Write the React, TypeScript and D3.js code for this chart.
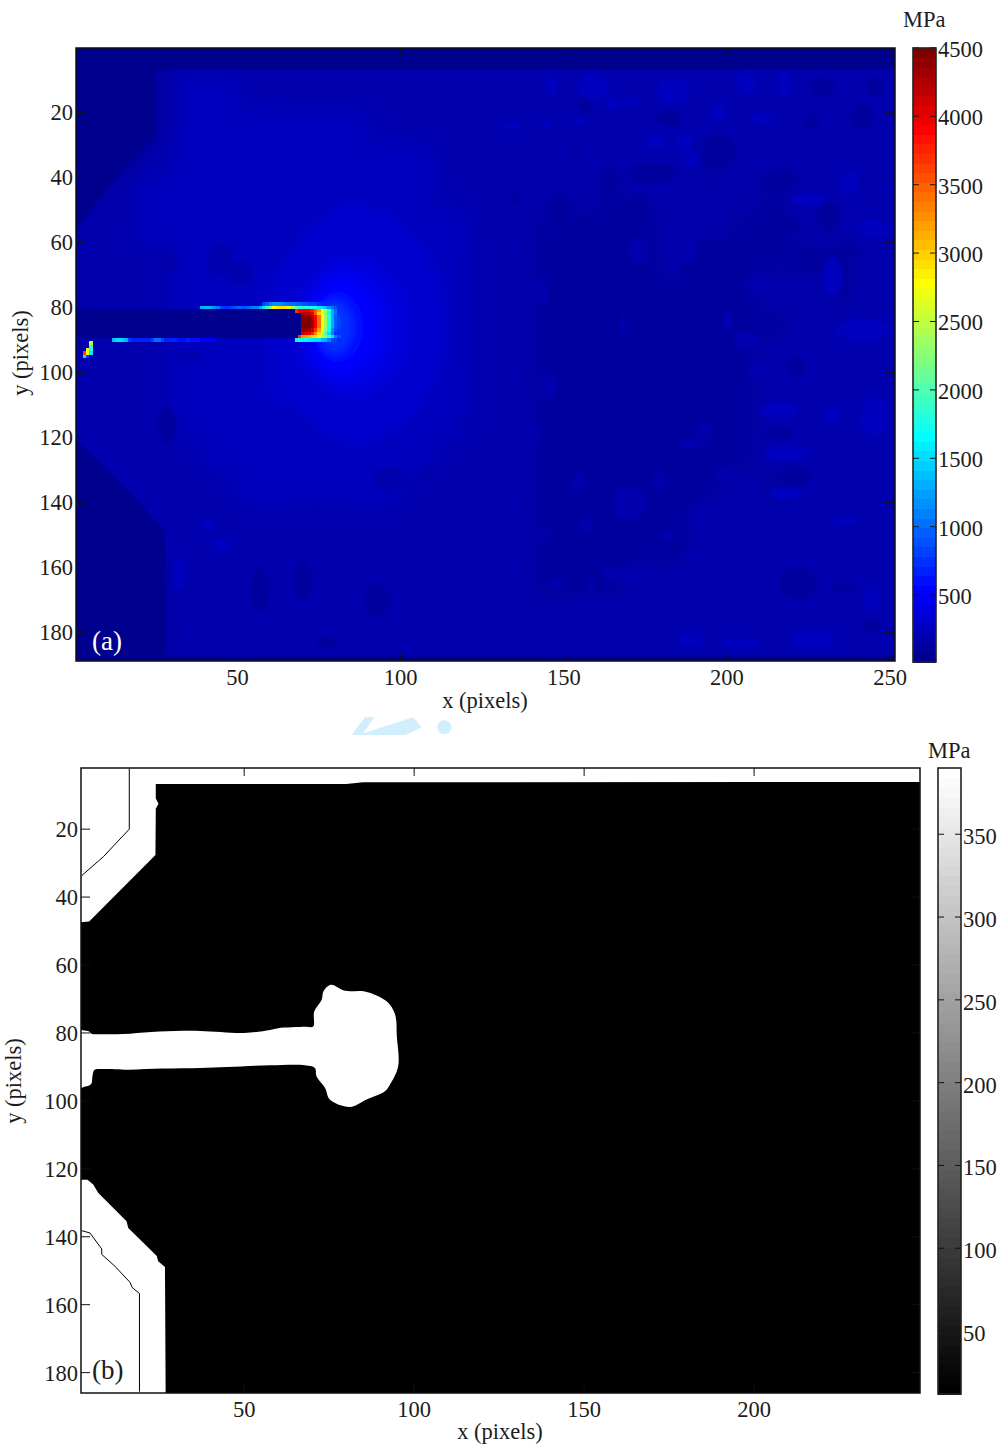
import React from "react";
import * as d3 from "d3";

type Pt = [number, number];
type Blob = [number, number, number, number, number];

// ---- panel (a): stress field in MPa ----
const fieldX = [5, 15, 25, 35, 45, 55, 65, 75, 85, 95, 105, 115, 125, 135, 145, 155, 165, 175, 185, 195, 205, 215, 225, 235, 245, 255];
const fieldY = [5, 15, 25, 35, 45, 55, 65, 75, 85, 95, 105, 115, 125, 135, 145, 155, 165, 175, 185];
const field = [
  [140, 140, 140, 210, 220, 220, 220, 210, 210, 200, 200, 200, 190, 190, 190, 190, 200, 200, 200, 200, 200, 210, 190, 180, 180, 170],
  [140, 140, 140, 240, 240, 220, 220, 220, 220, 210, 210, 210, 200, 190, 180, 190, 180, 190, 190, 190, 200, 210, 190, 170, 170, 170],
  [140, 140, 150, 260, 240, 230, 230, 230, 230, 220, 210, 210, 200, 180, 170, 180, 170, 180, 180, 170, 180, 180, 170, 170, 170, 170],
  [140, 150, 210, 240, 250, 240, 240, 240, 240, 240, 230, 210, 190, 180, 170, 170, 165, 160, 170, 150, 170, 170, 160, 160, 170, 170],
  [140, 170, 230, 240, 240, 240, 250, 260, 260, 250, 240, 220, 190, 170, 160, 160, 150, 160, 165, 170, 160, 150, 170, 170, 180, 180],
  [160, 210, 230, 230, 240, 250, 270, 290, 300, 280, 260, 230, 200, 170, 150, 145, 140, 140, 160, 170, 150, 140, 170, 160, 190, 190],
  [190, 210, 220, 230, 240, 260, 290, 330, 340, 320, 280, 240, 200, 170, 150, 135, 130, 150, 165, 140, 130, 130, 150, 150, 170, 170],
  [190, 205, 220, 230, 250, 280, 320, 370, 380, 360, 300, 250, 210, 170, 150, 135, 135, 135, 140, 130, 150, 170, 170, 150, 170, 170],
  [190, 205, 220, 230, 250, 280, 330, 400, 420, 370, 310, 260, 220, 180, 150, 140, 135, 130, 130, 135, 140, 150, 160, 170, 190, 190],
  [190, 210, 220, 230, 250, 280, 320, 380, 390, 350, 300, 250, 210, 180, 150, 140, 135, 130, 130, 135, 140, 160, 160, 170, 190, 190],
  [180, 200, 220, 230, 250, 270, 300, 330, 340, 310, 280, 240, 200, 170, 150, 140, 135, 130, 130, 135, 140, 170, 165, 170, 195, 200],
  [170, 190, 215, 225, 240, 260, 280, 290, 300, 280, 260, 230, 195, 165, 150, 135, 130, 130, 130, 140, 150, 190, 170, 190, 205, 210],
  [165, 170, 200, 220, 230, 250, 260, 270, 270, 260, 240, 215, 185, 165, 145, 140, 130, 130, 140, 140, 150, 180, 170, 180, 200, 200],
  [150, 160, 180, 220, 220, 230, 240, 240, 240, 240, 220, 200, 180, 160, 150, 140, 135, 130, 135, 150, 170, 150, 160, 170, 190, 190],
  [145, 150, 170, 210, 220, 220, 220, 220, 215, 210, 210, 200, 180, 160, 150, 145, 135, 140, 150, 160, 170, 170, 170, 175, 190, 190],
  [145, 145, 160, 200, 215, 210, 210, 205, 200, 200, 195, 190, 175, 160, 150, 145, 140, 140, 150, 160, 175, 175, 175, 180, 190, 190],
  [145, 145, 150, 195, 210, 195, 195, 200, 195, 190, 185, 180, 170, 160, 150, 150, 150, 165, 165, 170, 175, 170, 175, 170, 185, 190],
  [145, 145, 150, 195, 210, 210, 195, 195, 190, 190, 190, 180, 175, 165, 160, 160, 165, 180, 175, 170, 175, 175, 175, 180, 185, 190],
  [145, 145, 150, 210, 210, 210, 200, 190, 190, 185, 180, 185, 180, 175, 170, 185, 190, 180, 175, 185, 185, 185, 200, 190, 190, 190],
];

// contour bands of the stress concentration ahead of the tip: x, y, rx, ry, MPa
const tipHalo: Blob[] = [
  [87, 85, 26, 36, 300], [86, 86, 20, 27, 345], [85, 86, 17, 21, 400], [83, 86, 13, 17, 470],
  [82, 86, 10, 14, 540], [81, 86, 7.5, 10.5, 640], [80, 86, 5, 8, 760],
];

// mottled patches of the field: x, y, rx, ry, MPa
const lightPatches: Blob[] = [
  [205.8, 10.5, 3, 4, 290], [158.9, 12, 5, 4, 240], [183.4, 13.6, 5, 4, 240], [146.1, 11.6, 2, 3, 240], [217.6, 11, 2.2, 3.5, 240],
  [165, 17.2, 2, 2, 240], [170.6, 16.7, 2.5, 1.5, 235], [197.2, 20.3, 2, 3, 235], [211, 21.8, 3.5, 1.5, 235], [133.9, 24.2, 3.5, 1, 230],
  [144.6, 23.9, 2, 1, 230], [154.8, 22.9, 2, 1.5, 240], [178.3, 29, 3.5, 2, 240], [187, 29.5, 2.5, 3, 230], [189.5, 34.6, 2.5, 2.5, 240],
  [237.5, 41.8, 3, 3.5, 240], [224.7, 47, 5, 2, 240], [244.6, 55.7, 5, 3, 240], [197.7, 49, 3, 4, 220], [232.4, 70.5, 3, 6, 240],
  [209.9, 72.6, 4.5, 3, 215], [172.7, 62.3, 3, 4, 205], [187.5, 61.3, 3, 5, 200], [241.6, 87, 8, 3.5, 240], [136.4, 82.9, 3, 5, 205],
  [142.6, 75.7, 3, 4, 205], [205.8, 90, 4, 3, 215], [200.2, 83.9, 1.5, 3, 205], [168, 85, 1, 3, 190],
  [139.5, 119.3, 3, 5, 210], [145.6, 104.4, 2.5, 4, 200], [245.1, 113.6, 4, 6, 250], [232.4, 113.1, 2.5, 2.5, 250], [216, 111.6, 6, 2.5, 225],
  [210.9, 99.3, 5, 3, 215], [218, 124.9, 7, 2.5, 225], [189.5, 121.8, 4.5, 1.5, 195], [193.1, 118.2, 2, 2, 195], [154.8, 133.6, 2.5, 2.5, 190],
  [199.2, 131.6, 2.5, 2, 195], [170.1, 140.3, 5, 5, 195], [178.8, 133.1, 1.5, 4, 195], [192.6, 144.9, 3.5, 4, 205], [205.3, 143.4, 5, 5, 215],
  [218, 137.2, 5, 2, 225], [156.9, 147, 2, 2.5, 195], [143.6, 149.5, 2.5, 1.5, 195], [128.8, 147.5, 3, 2, 200], [182.4, 150, 2.5, 1.5, 195],
  [207.9, 155.7, 6, 4, 220], [191.5, 156.7, 6, 1.5, 210], [236.4, 145.9, 4, 1, 230], [172.2, 162.8, 7, 3, 210], [191.5, 162.8, 3, 3.5, 210],
  [164, 161.8, 2, 2.5, 205], [147.7, 164.9, 3, 1.5, 205], [130.8, 167.5, 2, 2, 205], [158.4, 165.9, 1.2, 3, 205], [142.6, 174.1, 6, 1.5, 205],
  [175.2, 172.1, 7, 2.5, 220], [186.4, 174.1, 2, 4, 220], [198.7, 175.1, 2.5, 5, 215], [162, 179.3, 9, 4.5, 220], [188.5, 182.3, 4, 2, 225],
  [203.8, 183.4, 6, 1.5, 225], [226.2, 182.3, 7, 3, 225], [244.6, 169.5, 2.5, 4, 280],
  [39.5, 43.7, 3, 3, 280], [40.5, 58, 2, 2.5, 270], [32, 162, 2, 5, 260], [45, 153, 3, 2, 260], [41, 147, 2, 2, 260],
];
const darkPatches: Blob[] = [
  [156.3, 17.7, 2, 3.5, 130], [182.4, 21.8, 4, 2.5, 120], [229.3, 12, 4, 3, 120], [245.6, 12, 3, 3, 110], [241.6, 21.3, 4, 3.5, 115],
  [226.2, 22.9, 2.5, 2.5, 120], [197.7, 31.6, 5, 5, 125], [164, 40.8, 3, 3.5, 110], [177.3, 38.7, 8, 3, 115], [216, 40.8, 6, 3, 100],
  [173.2, 51, 4, 6, 110], [148.7, 49, 3.5, 5, 115], [135.4, 46.4, 1.5, 2, 115], [231.3, 52, 4, 4.5, 110], [216, 55.2, 7, 3, 110],
  [160, 64.4, 7, 10, 115], [195.6, 66.4, 10, 7, 110], [175.2, 82.9, 2, 3.5, 90], [237.5, 62.3, 3.5, 2, 110], [224.7, 65.4, 3, 3, 110],
  [153.8, 31, 2, 1, 110], [221, 132, 5, 3, 120], [235.4, 165.9, 4, 1.5, 115], [222, 164.9, 6, 5, 120], [216, 118.7, 5, 2, 125],
  [244.6, 178.2, 3, 2, 125], [221, 98.2, 3, 3, 120], [96.6, 133, 5, 4, 165], [109.9, 130.9, 4, 2.5, 165], [120, 115.5, 2.5, 1.2, 165],
  [116, 121.7, 2, 1.2, 160], [28.3, 116.5, 3, 6, 150], [44.6, 65.2, 4, 5, 180], [50.7, 69.4, 4, 4, 190], [28.3, 66.3, 3, 4, 170],
  [35.4, 95, 4, 1.5, 170], [57, 167, 3, 7, 110], [70, 164, 3, 6, 120], [93, 170, 4, 5, 120], [77, 183, 3, 2, 130],
];

// unloaded areas outside the specimen
const maskTop: Pt[] = [[0.2, 0.2], [251.5, 0.2], [251.5, 6.9], [0.2, 6.9]];
const maskUpperLeft: Pt[] = [[0.2, 6.9], [24.7, 6.9], [24.7, 27.5], [17, 35.2], [11.9, 41.8], [4.8, 50], [0.7, 56], [0.2, 56]];
const maskLowerLeft: Pt[] = [[0.2, 120], [19, 139], [27.8, 149], [27.8, 188.8], [0.2, 188.8]];
const maskBottom: Pt[] = [[0.2, 187.3], [251.5, 187.3], [251.5, 188.8], [0.2, 188.8]];
const maskCrack: Pt[] = [[0.2, 80.5], [69.5, 80.5], [69.5, 89.5], [0.2, 89.5]];
const maskValue = 60;

// single measured pixels along the crack and at its tip: row, first column, MPa
const tipRows: [number, number, number[]][] = [
  [79, 58, [800, 950, 1100, 1200, 1200, 1200, 1100, 1050, 1000, 1000, 950, 950, 900, 900, 850, 800, 800, 750, 700, 650]],
  [80, 39, [1300, 1400, 1400, 1300, 1200, 1100, 800, 750, 750, 800, 900, 950, 950, 900, 950, 1000, 1100, 1100, 1300, 1500, 1900, 2400, 2800, 2850, 2900, 2900, 2850, 2700, 2300, 2000, 1900, 1800, 1800, 1750, 1700, 1700, 1600, 1500, 1350, 1200, 1050, 900]],
  [81, 68, [3700, 3900, 4000, 4000, 3900, 3800, 3500, 3200, 2800, 2400, 1800, 1300, 1000]],
  [82, 70, [4300, 4200, 4100, 3950, 3500, 3000, 2700, 2300, 1700, 1300, 1000]],
  [83, 70, [4500, 4500, 4500, 4300, 3900, 3400, 2800, 2400, 1800, 1300, 950, 800]],
  [84, 70, [4500, 4500, 4500, 4300, 3900, 3400, 2800, 2400, 1800, 1300, 950, 800]],
  [85, 70, [4500, 4500, 4500, 4300, 3900, 3400, 2800, 2400, 1800, 1300, 950, 800]],
  [86, 70, [4500, 4500, 4500, 4300, 3900, 3400, 2800, 2400, 1800, 1300, 950, 800]],
  [87, 70, [4400, 4400, 4300, 4100, 3700, 3200, 2700, 2200, 1700, 1200, 900]],
  [88, 70, [4100, 4000, 3950, 3800, 3300, 2900, 2500, 2000, 1500, 1100]],
  [89, 69, [3700, 3300, 3200, 3100, 3000, 2900, 2700, 2400, 2200, 1900, 1500, 1100, 900]],
  [90, 68, [1700, 1700, 1650, 1650, 1600, 1600, 1550, 1500, 1400, 1300, 1100, 900, 800, 700]],
  [90, 12, [1400, 1500, 1500, 1450, 1300, 800, 700, 650, 650, 650, 650, 650, 800, 1000, 1000, 800, 700, 680, 650, 650, 600, 600, 620, 650, 620, 600, 580, 560, 550, 530, 520, 500]],
  [91, 5, [2500]],
  [92, 5, [1900]],
  [93, 4, [2700, 1800]],
  [94, 3, [3600, 2700, 1600]],
  [95, 3, [1500, 800]],
];

const xTicksA = [50, 100, 150, 200, 250];
const xTicksB = [50, 100, 150, 200];
const yTicks = [20, 40, 60, 80, 100, 120, 140, 160, 180];
const barTicksA = [500, 1000, 1500, 2000, 2500, 3000, 3500, 4000, 4500];
const barTicksB = [50, 100, 150, 200, 250, 300, 350];

// ---- panel (b): regions above yield are white, the rest is black ----
const blackOutline: Pt[] = [
  [24, 6.7], [80, 6.7], [85, 6.2], [248.8, 6.1], [248.8, 186], [26.9, 186],
  [26.7, 148.9], [24.7, 147.2], [24.3, 145.7], [15.9, 137.4], [15.4, 135.4], [7.1, 127.1], [5.6, 124.6], [3.9, 123.2], [2, 123.2],
  [2, 47.4], [4.4, 47.2], [23.9, 27.6], [24, 14], [24.8, 12.5], [24, 11],
];
const crackOutline: Pt[] = [
  [0, 79], [2.5, 79.2], [4.4, 79.6], [5, 80.2], [8, 80.4], [16.4, 80.2], [25, 79.6], [37, 79.4], [50, 80], [57.6, 79.1], [60, 78.6], [68, 78.2],
  [70.3, 78.1], [70.6, 73.7], [72.8, 70.2], [73.3, 67.8], [75.5, 65.8], [79.7, 67.6], [85.5, 67.8], [91.9, 70.7], [94.4, 74.6],
  [94.9, 81], [95.3, 89.8], [92.9, 95.2], [91.4, 97.2], [86, 99.6], [81.1, 101.8], [75.2, 99.6], [73.8, 96.2], [71.3, 92.8], [70.8, 90.3],
  [67.9, 89.5], [57.6, 89.5], [45, 90], [37, 90.3], [26, 90.5], [16, 90.8], [8, 90.6], [6, 90.8], [5.4, 92.5], [5, 95], [3.2, 95.8], [0, 96.2],
];
const upperContour: Pt[] = [[16.2, 2.1], [16.2, 20], [8.6, 28.1], [2.2, 33.7]];
const lowerContour: Pt[] = [[2.2, 138.2], [4.65, 138.9], [8.1, 143.6], [8.1, 145.2], [12, 148.7], [16.4, 153.4], [17.1, 155], [19.2, 156.7], [19.2, 185.6]];

const FONT = "'Liberation Serif', 'Times New Roman', serif";
const INK = "#1c1c1c";

const x1 = d3.scaleLinear().domain([0.5, 251.5]).range([76, 895]);
const y1 = d3.scaleLinear().domain([0.2, 188.8]).range([48, 661]);
const bar1 = d3.scaleLinear().domain([11, 4499]).range([662, 48]);
const x2 = d3.scaleLinear().domain([2, 248.8]).range([81, 920]);
const y2 = d3.scaleLinear().domain([2, 186]).range([768, 1393]);
const bar2 = d3.scaleLinear().domain([12, 390]).range([1394, 768]);

const jetRamp = d3
  .scaleLinear<string>()
  .domain([0, 0.111, 0.365, 0.619, 0.873, 1])
  .range(["#00008f", "#0000ff", "#00ffff", "#ffff00", "#ff0000", "#800000"])
  .clamp(true);
const LEVELS = d3.range(64);
const jet = (v: number) => {
  const level = Math.min(63, Math.floor(((v - 10) / 4500) * 64));
  return jetRamp(level / 63);
};

const toPath = (pts: Pt[], x: d3.ScaleLinear<number, number>, y: d3.ScaleLinear<number, number>, close = true) =>
  d3.line().x((d) => x(d[0])).y((d) => y(d[1]))(pts) + (close ? "Z" : "");

const BlobLayer = ({ blobs, filter }: { blobs: Blob[]; filter: string }) => (
  <g filter={filter}>
    {blobs.map((b, i) => (
      <ellipse key={i} cx={x1(b[0])} cy={y1(b[1])} rx={x1(b[2]) - x1(0)} ry={y1(b[3]) - y1(0)} fill={jet(b[4])} />
    ))}
  </g>
);

const Frame = ({ x, y, xTicks, stroke = 1.5 }: any) => {
  const [l, r] = x.range();
  const [t, b] = y.range();
  return (
    <g stroke="#111" fill="none">
      {xTicks.map((v: number) => (
        <g key={v}>
          <line x1={x(v)} x2={x(v)} y1={t} y2={t + 8} strokeWidth={1} />
          <line x1={x(v)} x2={x(v)} y1={b} y2={b - 8} strokeWidth={1} />
        </g>
      ))}
      {yTicks.map((v) => (
        <g key={v}>
          <line x1={l} x2={l + 9} y1={y(v)} y2={y(v)} strokeWidth={1} />
          <line x1={r} x2={r - 9} y1={y(v)} y2={y(v)} strokeWidth={1} />
        </g>
      ))}
      <rect x={l} y={t} width={r - l} height={b - t} strokeWidth={stroke} />
    </g>
  );
};

const AxisText = ({ x, y, xTicks, xLabelX, xLabelY, yLabelX, yLabelY }: any) => {
  const [l] = x.range();
  const [, b] = y.range();
  return (
    <g fontFamily={FONT} fontSize={22.5} fill={INK}>
      {xTicks.map((v: number) => (
        <text key={v} x={x(v)} y={b + 24} textAnchor="middle">{v}</text>
      ))}
      {yTicks.map((v) => (
        <text key={v} x={l - 3} y={y(v) + 8} textAnchor="end">{v}</text>
      ))}
      <text x={xLabelX} y={xLabelY} textAnchor="middle">x (pixels)</text>
      <text transform={`translate(${yLabelX},${yLabelY}) rotate(-90)`} textAnchor="middle">y (pixels)</text>
    </g>
  );
};

const ColorBar = ({ scale, ticks, left, width, color, top, bottom, unitX, unitY, labelDy }: any) => (
  <g>
    {LEVELS.map((i) => {
      const h = (bottom - top) / 64;
      return <rect key={i} x={left} y={bottom - (i + 1) * h} width={width} height={h + 0.5} fill={color(i)} shapeRendering="crispEdges" />;
    })}
    {ticks.map((v: number) => (
      <g key={v} stroke="#111" strokeWidth={1}>
        <line x1={left} x2={left + 6} y1={scale(v)} y2={scale(v)} />
        <line x1={left + width} x2={left + width - 6} y1={scale(v)} y2={scale(v)} />
      </g>
    ))}
    <rect x={left} y={top} width={width} height={bottom - top} fill="none" stroke="#222" strokeWidth={1.6} />
    <g fontFamily={FONT} fontSize={22.5} fill={INK}>
      {ticks.map((v: number) => (
        <text key={v} x={left + width + 2} y={scale(v) + labelDy}>{v}</text>
      ))}
      <text x={unitX} y={unitY}>MPa</text>
    </g>
  </g>
);

export default function App() {
  const masks = [maskTop, maskUpperLeft, maskLowerLeft, maskBottom, maskCrack];
  const crackPath = d3
    .line()
    .x((d) => x2(d[0]))
    .y((d) => y2(d[1]))
    .curve(d3.curveCatmullRomClosed.alpha(0.5))(crackOutline) as string;
  return (
    <svg width={1001} height={1446} style={{ position: "absolute", left: 0, top: 0, display: "block", background: "#fff" }}>
      <defs>
        <clipPath id="plotA">
          <rect x={76} y={48} width={819} height={613} />
        </clipPath>
        <clipPath id="plotB">
          <rect x={81} y={768} width={839} height={625} />
        </clipPath>
        <filter id="smooth" x="-5%" y="-5%" width="110%" height="110%">
          <feGaussianBlur stdDeviation={11} />
        </filter>
        <filter id="halo" x="-30%" y="-30%" width="160%" height="160%">
          <feGaussianBlur stdDeviation={4} />
        </filter>
        <filter id="soft" x="-10%" y="-10%" width="120%" height="120%">
          <feGaussianBlur stdDeviation={1.2} />
        </filter>
      </defs>

      {/* panel (a) */}
      <g clipPath="url(#plotA)">
        <rect x={76} y={48} width={819} height={613} fill={jet(170)} />
        <g filter="url(#smooth)">
          {field.map((row, i) =>
            row.map((v, j) => (
              <rect
                key={`${i}-${j}`}
                x={x1(fieldX[j] - 5)}
                y={y1(fieldY[i] - 5)}
                width={x1(10) - x1(0)}
                height={y1(10) - y1(0)}
                fill={jet(v)}
              />
            ))
          )}
        </g>
        <BlobLayer blobs={darkPatches} filter="url(#soft)" />
        <BlobLayer blobs={lightPatches} filter="url(#soft)" />
        <BlobLayer blobs={tipHalo} filter="url(#halo)" />
        {masks.map((m, i) => (
          <path key={i} d={toPath(m, x1, y1)} fill={jet(maskValue)} />
        ))}
        {tipRows.map(([row, col, vals]) =>
          vals.map((v, k) => (
            <rect
              key={`${row}-${col}-${k}`}
              x={x1(col + k - 0.5)}
              y={y1(row - 0.5)}
              width={x1(1) - x1(0) + 0.3}
              height={y1(1) - y1(0) + 0.3}
              fill={jet(v)}
              shapeRendering="crispEdges"
            />
          ))
        )}
      </g>
      <Frame x={x1} y={y1} xTicks={xTicksA} />
      <AxisText x={x1} y={y1} xTicks={xTicksA} xLabelX={485} xLabelY={708} yLabelX={28} yLabelY={353} />
      <text x={92} y={650} fontFamily={FONT} fontSize={27} fill="#fff">(a)</text>
      <ColorBar
        scale={bar1}
        ticks={barTicksA}
        left={913}
        width={23}
        top={48}
        bottom={662}
        color={(i: number) => jetRamp(i / 63)}
        unitX={903}
        unitY={27}
        labelDy={9}
      />

      {/* scanned-in watermark between the panels */}
      <g fill="#d2edfb">
        <path d="M351.7,735 L365,717.3 L374.3,717.3 L363.3,733.3 L413.3,717.3 L421.7,727.3 L405,735 Z" />
        <circle cx={444.3} cy={727.3} r={7} />
      </g>

      {/* panel (b) */}
      <rect x={81} y={768} width={839} height={625} fill="#fff" />
      <path d={toPath(blackOutline, x2, y2)} fill="#000" />
      <path d={crackPath} fill="#fff" clipPath="url(#plotB)" />
      <path d={toPath(upperContour, x2, y2, false)} fill="none" stroke="#000" strokeWidth={1} />
      <path d={toPath(lowerContour, x2, y2, false)} fill="none" stroke="#000" strokeWidth={1} />
      <Frame x={x2} y={y2} xTicks={xTicksB} />
      <AxisText x={x2} y={y2} xTicks={xTicksB} xLabelX={500} xLabelY={1439} yLabelX={20.5} yLabelY={1081} />
      <text x={92} y={1379} fontFamily={FONT} fontSize={27} fill={INK}>(b)</text>
      <ColorBar
        scale={bar2}
        ticks={barTicksB}
        left={938}
        width={23}
        top={768}
        bottom={1394}
        color={(i: number) => d3.interpolateRgb("#000", "#fff")(i / 63)}
        unitX={928}
        unitY={758}
        labelDy={10}
      />
    </svg>
  );
}
